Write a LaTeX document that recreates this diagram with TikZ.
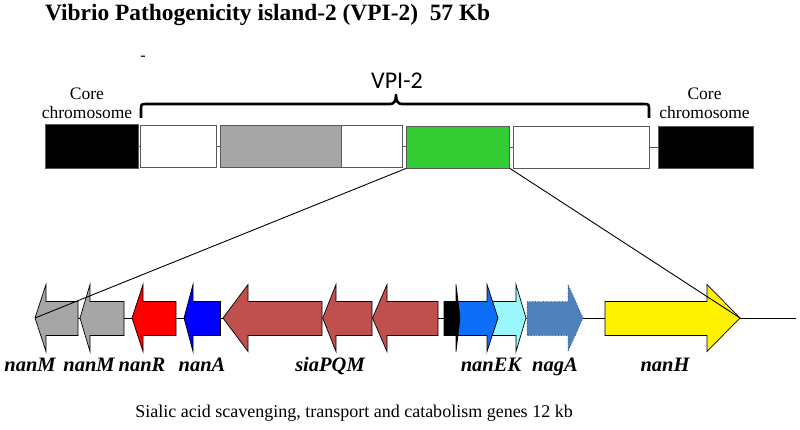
\documentclass[tikz,border=0pt]{standalone}
\usepackage{fontspec}
\setmainfont{Liberation Serif}
\newfontfamily\vpifont{Carlito}
\definecolor{boxedge}{HTML}{595959}
\definecolor{greyA}{HTML}{A6A6A6}
\definecolor{islandgreen}{HTML}{33CC33}
\definecolor{siacol}{HTML}{C0504D}
\definecolor{nanEcol}{HTML}{0F6EF7}
\definecolor{nanKcol}{HTML}{99F6FA}
\definecolor{nagAcol}{HTML}{4F81BD}
\definecolor{nagAedge}{HTML}{2F4F8F}
\newcommand{\gLeft}[5]{%
  \draw[gene,#5] (#2,318) -- (#3,284.5) -- (#3,301.5) -- (#4,301.5) -- (#4,335.5) -- (#3,335.5) -- (#3,351.5) -- cycle;
  \coordinate (#1) at (#2,318);}
\newcommand{\gRight}[5]{%
  \draw[gene,#5] (#2,301.5) -- (#3,301.5) -- (#3,284.5) -- (#4,318) -- (#3,351.5) -- (#3,335.5) -- (#2,335.5) -- cycle;
  \coordinate (#1) at (#4,318);}
\begin{document}
\begin{tikzpicture}[x=1pt,y=-1pt,
  box/.style={draw=boxedge, line width=0.8pt, minimum height=42pt, inner sep=0pt},
  gene/.style={draw=black, line width=0.7pt, line join=miter},
  glabel/.style={font=\fontsize{20.5}{24}\selectfont\bfseries\itshape, anchor=base, inner sep=0pt},
  link/.style={boxedge, line width=0.8pt},
  zoomline/.style={black, line width=0.9pt},
  corelabel/.style={font=\fontsize{17.5}{19}\selectfont, align=center, anchor=south, inner sep=0pt}]
\useasboundingbox[fill=white] (0,0) rectangle (800,430);

% title
\node[anchor=base west, inner sep=0pt, font=\fontsize{23.4}{28}\selectfont\bfseries] (title) at (45,21)
  {Vibrio Pathogenicity island-2 (VPI-2)\ \ 57 Kb};
\node[inner sep=0pt, font=\fontsize{16}{18}\selectfont] (dash) at (143,58) {-};

% top boxes
\node[box, fill=black, minimum width=93pt, minimum height=44pt] (coreL) at (91.5,146.5) {};
\node[box, fill=white, minimum width=76pt] (b1) at (178,146.5) {};
\node[box, fill=greyA, minimum width=121pt] (b2) at (280.5,146.5) {};
\node[box, fill=white, minimum width=61pt] (b3) at (371.5,146.5) {};
\node[box, fill=islandgreen, minimum width=103pt] (green) at (458,147) {};
\node[box, fill=white, minimum width=136pt] (b5) at (581,147) {};
\node[box, fill=black, minimum width=95pt] (coreR) at (705.5,147) {};
\draw[link] (coreL.east) -- (b1.west);
\draw[link] (b1.east) -- (b2.west);
\draw[link] (b3.east) -- (b3.east -| green.west);
\draw[link] (green.east) -- (b5.west);
\draw[link] (b5.east) -- (b5.east -| coreR.west);

\node[corelabel] (coreLlab) at (87,119) {Core\\chromosome};
\node[corelabel] (coreRlab) at (704.5,119) {Core\\chromosome};

% brace
\coordinate (braceTip) at (396,95);
\draw[line width=2.6pt, line join=round, line cap=butt]
  (141,118) -- (141,110) .. controls (141,104) .. (147,104) -- (390,104)
  .. controls (394,104) and (396,101) .. (braceTip)
  .. controls (396,101) and (398,104) .. (402,104) -- (643,104)
  .. controls (649,104) .. (649,110) -- (649,118);
\node[anchor=base, inner sep=0pt, font=\vpifont\fontsize{24}{28}\selectfont] (vpi) at (397,89) {VPI-2};

% gene row
\coordinate (lineStart) at (35,318);
\coordinate (lineEnd) at (796,318);
\draw[line width=0.9pt] (lineStart) -- (lineEnd);

\gLeft{nanMa}{35}{46}{78}{fill=greyA}
\gLeft{nanMb}{80}{90}{124}{fill=greyA}
\gLeft{nanR}{132}{143}{176}{fill=red}
\gLeft{nanA}{184}{193}{220.5}{fill=blue}
\gLeft{siaP}{223}{248}{322}{fill=siacol}
\gLeft{siaQ}{322.7}{336}{372}{fill=siacol}
\gLeft{siaM}{372.5}{387}{438}{fill=siacol}
\gRight{nanK}{487}{516}{526}{fill=nanKcol}
\gRight{nanE}{456}{487}{498}{fill=nanEcol}
\gRight{blk}{444}{456}{460}{fill=black}
\gRight{nagA}{527}{568}{583}{fill=nagAcol, draw=nagAedge, dotted, line width=0.9pt}
\gRight{nanH}{605}{707}{740}{fill=yellow}

% zoom lines
\draw[zoomline] (green.south west) -- (nanMa);
\draw[zoomline] (green.south east) -- (nanH);

% gene labels
\node[glabel] (lnanMa) at (30,371) {nanM};
\node[glabel] (lnanMb) at (89,371) {nanM};
\node[glabel] (lnanR) at (142,371) {nanR};
\node[glabel] (lnanA) at (202,371) {nanA};
\node[glabel] (lsia) at (330,371) {siaPQM};
\node[glabel] (lnanEK) at (491,371) {nanEK};
\node[glabel] (lnagA) at (555,371) {nagA};
\node[glabel] (lnanH) at (665,371) {nanH};

% caption
\node[anchor=base, inner sep=0pt, font=\fontsize{18}{22}\selectfont] (caption) at (354,417)
  {Sialic acid scavenging, transport and catabolism genes 12 kb};
\end{tikzpicture}
\end{document}
